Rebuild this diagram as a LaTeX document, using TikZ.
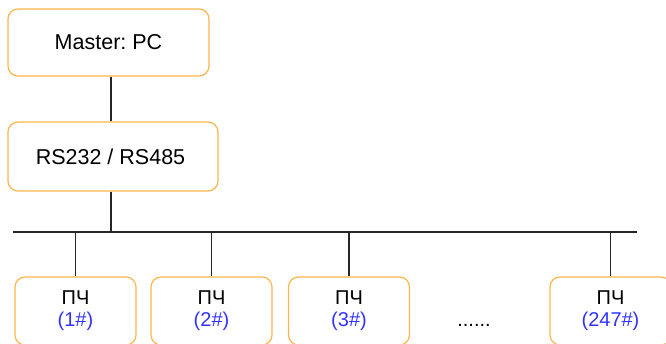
\documentclass[tikz,border=0pt]{standalone}
\usepackage{fontspec}
\setmainfont{Liberation Sans}
\frenchspacing
\definecolor{boxorange}{HTML}{FFB54D}
\definecolor{idblue}{HTML}{3333FF}
\begin{document}
\begin{tikzpicture}[x=1pt,y=-1pt,
  box/.style={draw=boxorange,line width=1.2pt,rounded corners=10pt,fill=white,inner sep=0pt,align=center},
  topbox/.style={box,font=\fontsize{21.5}{25}\selectfont},
  devbox/.style={box,minimum width=121pt,minimum height=68pt,font=\fontsize{20}{22}\selectfont},
  wire/.style={draw=black!85,line width=1.1pt}]
\useasboundingbox (0,0) rectangle (666,344);
\clip (0,0) rectangle (666,344);
\node[topbox,minimum width=201pt,minimum height=67pt] (master) at (108.5,42.5) {Master: PC};
\node[topbox,minimum width=210pt,minimum height=69pt] (rs) at (113,156.5) {RS232 / RS485\hspace*{5pt}};
\coordinate (busL) at (13,232);
\coordinate (busR) at (637,232);
\coordinate (j) at (111,232);
\node[devbox] (d1) at (75.5,311) {ПЧ\\\textcolor{idblue}{(1\#)}};
\node[devbox] (d2) at (211.5,311) {ПЧ\\\textcolor{idblue}{(2\#)}};
\node[devbox] (d3) at (349,311) {ПЧ\\\textcolor{idblue}{(3\#)}};
\node[devbox] (d4) at (610.5,311) {ПЧ\\\textcolor{idblue}{(247\#)}};
\node[font=\fontsize{20}{22}\selectfont,inner sep=0pt] (dots) at (474,325) {......};
\draw[wire] (master.south -| j) -- (rs.north -| j);
\draw[wire] (rs.south -| j) -- (j);
\draw[wire] (busL) -- (busR);
\draw[wire] (d1.north) -- (d1.north |- busL);
\draw[wire] (d2.north) -- (d2.north |- busL);
\draw[wire] (d3.north) -- (d3.north |- busL);
\draw[wire] (d4.north) -- (d4.north |- busL);
\end{tikzpicture}
\end{document}
